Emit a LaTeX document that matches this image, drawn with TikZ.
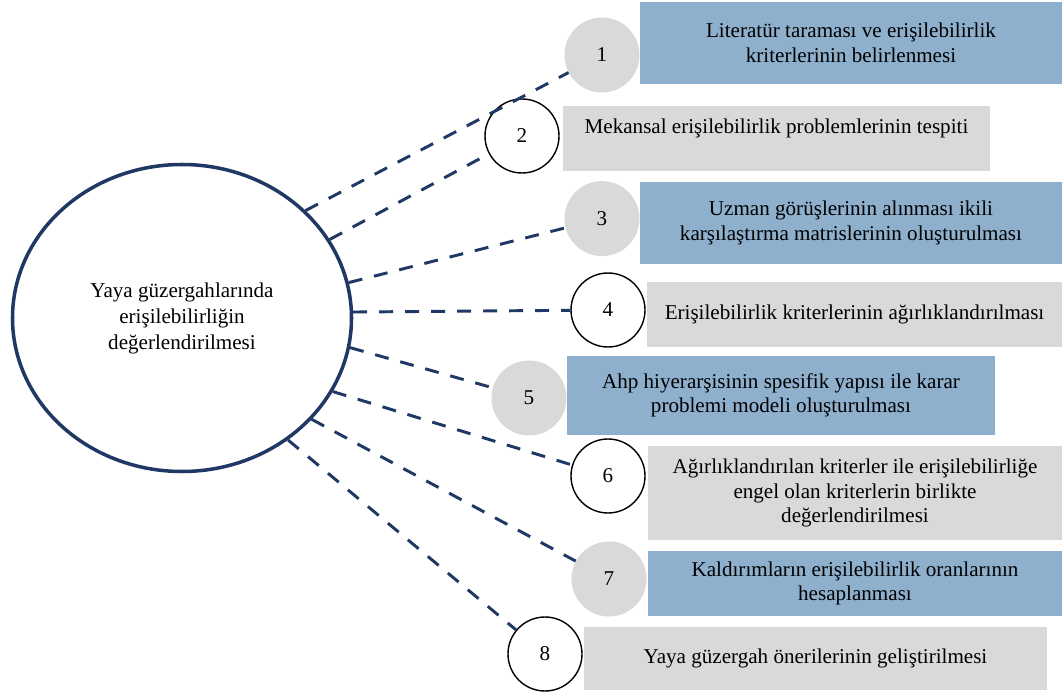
\documentclass[tikz,border=0pt]{standalone}
\usepackage{fontspec}
\setmainfont{Liberation Serif}
\usetikzlibrary{shapes.geometric}
\definecolor{lacivert}{RGB}{31,56,100}
\definecolor{kutumavi}{RGB}{142,176,204}
\definecolor{kutugri}{RGB}{217,217,217}

\begin{document}
\begin{tikzpicture}[
    merkez/.style={
        ellipse,
        draw=lacivert,
        line width=2.5pt,
        fill=white,
        align=center,
        minimum width=8.475cm,
        minimum height=7.675cm,
        font=\fontsize{15}{18.5}\selectfont
    },
    mavikutu/.style={
        rectangle,
        fill=kutumavi,
        align=center,
        font=\fontsize{15}{17.5}\selectfont
    },
    grikutu/.style={
        rectangle,
        fill=kutugri,
        align=center,
        font=\fontsize{15}{17.5}\selectfont
    },
    numara/.style={
        circle,
        draw=black,
        line width=1pt,
        fill=white,
        minimum size=1.85cm,
        inner sep=0pt,
        font=\fontsize{15}{17.5}\selectfont
    },
    grinumara/.style={
        circle,
        fill=kutugri,
        minimum size=1.875cm,
        inner sep=0pt,
        font=\fontsize{15}{17.5}\selectfont
    },
    baglanti/.style={draw=lacivert, line width=2.1pt, dash pattern=on 0.35cm off 0.3cm}
]
\useasboundingbox (0,0) rectangle (26.55,17.425);

% ADIM KUTULARI
\node[mavikutu, minimum width=10.55cm, minimum height=2.05cm] (adim1) at (21.275, 16.35) {Literatür taraması ve erişilebilirlik\\kriterlerinin belirlenmesi};
\node[grikutu, minimum width=10.675cm, minimum height=1.625cm, text depth=0.6cm] (adim2) at (19.4125, 13.9625) {Mekansal erişilebilirlik problemlerinin tespiti};
\node[mavikutu, minimum width=10.55cm, minimum height=2.05cm] (adim3) at (21.275, 11.85) {Uzman görüşlerinin alınması ikili\\karşılaştırma matrislerinin oluşturulması};
\node[grikutu, minimum width=10.375cm, minimum height=1.625cm] (adim4) at (21.3625, 9.5625) {Erişilebilirlik kriterlerinin ağırlıklandırılması};
\node[mavikutu, minimum width=10.7cm, minimum height=1.975cm] (adim5) at (19.525, 7.5375) {Ahp hiyerarşisinin spesifik yapısı ile karar\\problemi modeli oluşturulması};
\node[grikutu, minimum width=10.35cm, minimum height=2.35cm] (adim6) at (21.375, 5.1) {Ağırlıklandırılan kriterler ile erişilebilirliğe\\engel olan kriterlerin birlikte\\değerlendirilmesi};
\node[mavikutu, minimum width=10.35cm, minimum height=1.625cm] (adim7) at (21.375, 2.8375) {Kaldırımların erişilebilirlik oranlarının\\hesaplanması};
\node[grikutu, minimum width=11.575cm, minimum height=1.575cm] (adim8) at (20.3875, 0.9625) {Yaya güzergah önerilerinin geliştirilmesi};

% NUMARALAR
\node[grinumara] (no1) at (15.05, 16.05) {1};
\node[numara] (no2) at (13.05, 14.025) {2};
\node[grinumara] (no3) at (15.05, 11.96) {3};
\node[numara] (no4) at (15.2, 9.675) {4};
\node[grinumara] (no5) at (13.225, 7.475) {5};
\node[numara] (no6) at (15.2, 5.525) {6};
\node[grinumara] (no7) at (15.225, 2.95) {7};
\node[numara] (no8) at (13.625, 1.075) {8};

% MERKEZ
\node[merkez] (ana) at (4.55, 9.475) {Yaya güzergahlarında\\erişilebilirliğin\\değerlendirilmesi};

% --- BAĞLANTILAR ---
\draw[baglanti] (ana.41) -- (no1);
\draw[baglanti] (ana.28.5) -- (no2);
\draw[baglanti] (ana.12.6) -- (no3);
\draw[baglanti] (ana.2) -- (no4);
\draw[baglanti] (ana.-10) -- (no5);
\draw[baglanti] (ana.-26) -- (no6);
\draw[baglanti] (ana.-38) -- (no7);
\draw[baglanti] (ana.-49.3) -- (no8);

\end{tikzpicture}
\end{document}
